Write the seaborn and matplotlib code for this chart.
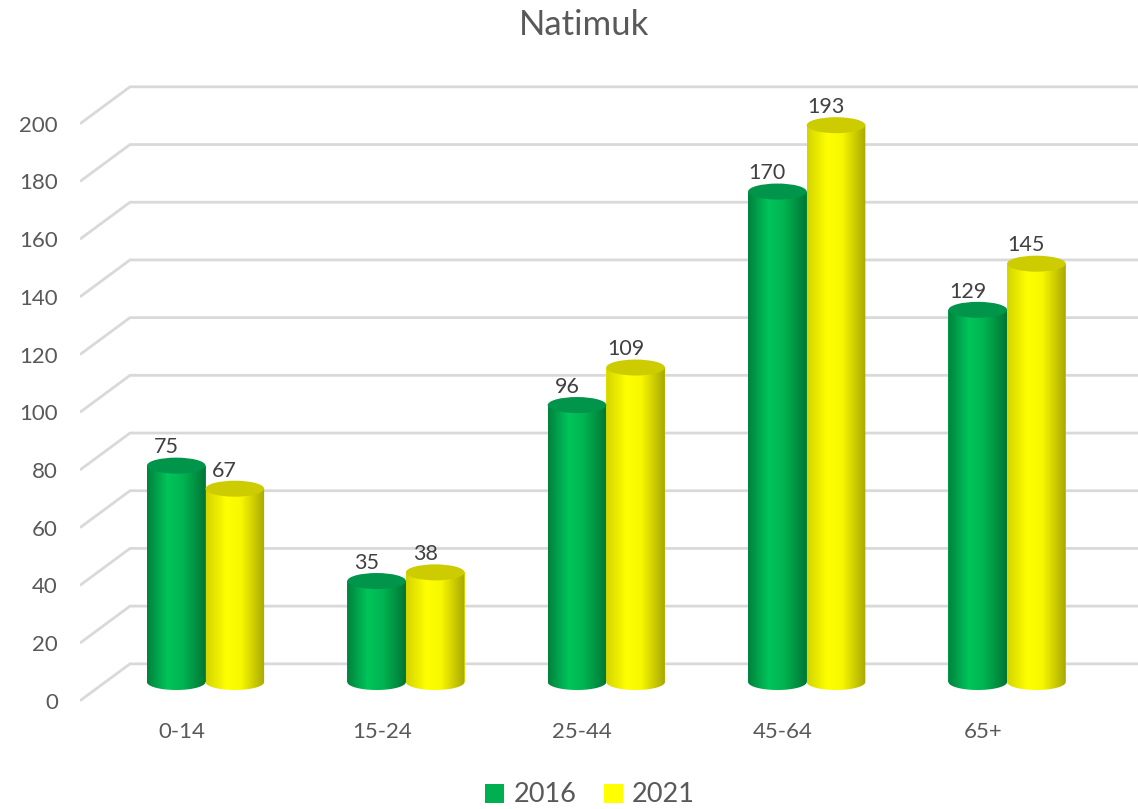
import numpy as np
import pandas as pd
import seaborn as sns
import matplotlib.pyplot as plt
from matplotlib.patches import Ellipse, Polygon, Patch
from matplotlib.colors import LinearSegmentedColormap, to_rgb

# data
age_groups = ['0-14', '15-24', '25-44', '45-64', '65+']
pop_2016 = [75, 35, 96, 170, 129]
pop_2021 = [67, 38, 109, 193, 145]
years = ['2016', '2021']
y_ticks = list(range(0, 201, 20))

df = pd.DataFrame({
    'age': age_groups * 2,
    'year': [years[0]] * len(age_groups) + [years[1]] * len(age_groups),
    'people': pop_2016 + pop_2021,
})

sns.set_theme(style='white')
plt.rcParams['font.family'] = ['Lato', 'DejaVu Sans']
text_col = '#595959'
grid_col = '#d9d9d9'
palette = {'2016': '#00b050', '2021': '#ffff00'}
# cylinder shading: gradient stops and top cap colour
shades = {
    '2016': (['#00813d', '#00c45a', '#00b552', '#007535'], '#00954a'),
    '2021': (['#d4d400', '#ffff00', '#f7f700', '#a8a800'], '#cccc00'),
}

W, H = 1138, 809
fig = plt.figure(figsize=(W / 100, H / 100), dpi=100)
ax = fig.add_axes([80 / W, 0, 1 - 80 / W, 1])

# pixel layout of the reference
px_unit = 2.885      # px per person (vertical)
px_cat = 200.4       # px per category
base_px = 682
cat0_px = 205.5
depth_front = -6.5   # tick-label end of the grid lines (front)
depth_back = 6.3     # back wall of the grid lines
cap_h = 16 / px_unit

sns.barplot(data=df, x='age', y='people', hue='year', palette=palette,
            saturation=1, width=0.585, gap=0, legend=False, ax=ax, zorder=2)

xlim = ((80 - cat0_px) / px_cat, (W - cat0_px) / px_cat)
ylim = ((base_px - H) / px_unit, base_px / px_unit)

# turn the flat bars into cylinders
for bar in list(ax.patches):
    x0, w, h = bar.get_x(), bar.get_width(), bar.get_height()
    fc = np.array(bar.get_facecolor()[:3])
    year = min(palette, key=lambda k: np.sum((np.array(to_rgb(palette[k])) - fc) ** 2))
    stops, cap = shades[year]
    cmap = LinearSegmentedColormap.from_list(year, list(zip([0, 0.35, 0.6, 1], stops)))
    cx = x0 + w / 2
    t = np.linspace(np.pi, 2 * np.pi, 40)
    outline = np.column_stack([cx + w / 2 * np.cos(t), cap_h / 2 * np.sin(t)])
    outline = np.vstack([outline, [[x0 + w, h], [x0, h]]])
    clip = Polygon(outline, closed=True, transform=ax.transData, visible=False)
    ax.add_patch(clip)
    bar.set_edgecolor('none')
    im = ax.imshow(np.linspace(0, 1, 256)[None, :], cmap=cmap, aspect='auto',
                   extent=[x0, x0 + w, -cap_h / 2, h], zorder=3, interpolation='bilinear')
    im.set_clip_path(clip)
    ax.add_patch(Ellipse((cx, h), w, cap_h, facecolor=cap, edgecolor='none', zorder=4))
    ax.text(cx - 10 / px_cat, h + 6.3, f'{h:.0f}', ha='center', va='center',
            fontsize=15.5, color='#404040', zorder=5)

# perspective grid lines
x_back = (130 - cat0_px) / px_cat
for v in y_ticks:
    ax.plot([xlim[0], x_back, xlim[1]], [v + depth_front, v + depth_back, v + depth_back],
            color=grid_col, lw=2, zorder=0, solid_capstyle='butt')

for i, label in enumerate(age_groups):
    ax.text(i - 24 / px_cat, (base_px - 732) / px_unit, label, ha='center', va='center',
            fontsize=16, color=text_col)

ax.set_xlim(*xlim)
ax.set_ylim(*ylim)
ax.set_xticks([])
ax.set_yticks([v + depth_front for v in y_ticks], labels=[str(v) for v in y_ticks])
ax.tick_params(axis='y', length=0, pad=16, labelsize=16, labelcolor=text_col)
ax.set_xlabel('')
ax.set_ylabel('')
for s in ax.spines.values():
    s.set_visible(False)
ax.patch.set_alpha(0)

fig.text(584 / W, 1 - 25 / H, 'Natimuk', fontsize=25, color=text_col, ha='center', va='center')

handles = [Patch(facecolor=palette[y], edgecolor='none') for y in years]
fig.legend(handles, years, loc='center', bbox_to_anchor=(590 / W, 1 - 795 / H), ncol=2,
           frameon=False, fontsize=19.5, handlelength=0.7, handleheight=0.7,
           handletextpad=0.35, columnspacing=1.0, labelcolor=text_col)

fig.savefig('out.png', dpi=100)
